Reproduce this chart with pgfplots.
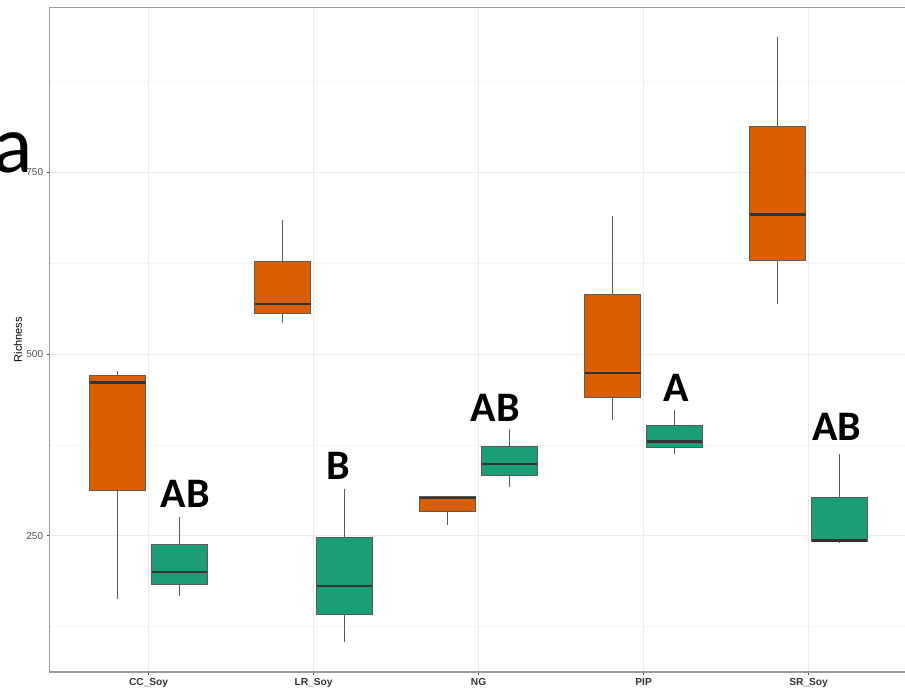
\documentclass[border=0pt]{standalone}
\usepackage{fontspec}
\setmainfont{Liberation Sans}
\newfontfamily\labfont{Carlito}
\usepackage{pgfplots}
\pgfplotsset{compat=1.18}

\definecolor{soyorange}{HTML}{D95F02}
\definecolor{soygreen}{HTML}{1B9E77}
\definecolor{gridmaj}{HTML}{EBEBEB}
\definecolor{gridmin}{HTML}{F5F5F5}
\definecolor{boxline}{HTML}{5A5A5A}
\definecolor{medline}{HTML}{333333}
\definecolor{ticktext}{HTML}{4D4D4D}
\definecolor{frame}{HTML}{9A9A9A}

\pgfplotsset{
  qbox/.style={fill=#1, draw=boxline, line width=1pt},
  whisk/.style={draw=boxline, line width=1pt},
  med/.style={draw=medline, line width=2.4pt},
}
\tikzset{grp/.style={font=\labfont\fontsize{42}{42}\selectfont\bfseries, inner sep=0pt, anchor=center}}

\begin{document}
\begin{tikzpicture}
\begin{axis}[
  scale only axis,
  width=858pt, height=664.5pt,
  xmin=0.4, xmax=5.6, ymin=62.5, ymax=976.8,
  xtick={1,2,3,4,5},
  xticklabels={CC\_Soy, LR\_Soy, NG, PIP, SR\_Soy},
  ytick={250,500,750},
  yticklabels={250,500,750},
  minor ytick={125,375,625,875},
  xmajorgrids, ymajorgrids, yminorgrids,
  major grid style={draw=gridmaj, line width=0.9pt},
  minor grid style={draw=gridmin, line width=0.6pt},
  axis line style={draw=frame, line width=1.1pt},
  tick pos=left, tick align=outside, major tick length=3pt, minor tick length=0pt,
  tick style={draw=ticktext, line width=0.8pt},
  /pgf/number format/assume math mode=true,
  xticklabel style={font=\fontsize{10.2}{12}\selectfont\bfseries, text=medline},
  yticklabel style={font=\fontsize{10}{12}\selectfont, text=ticktext},
  every axis y label/.style={at={(axis description cs:0,0.5)}, xshift=-31.6pt, rotate=90, anchor=center},
  ylabel={Richness},
  ylabel style={font=\fontsize{11}{13}\selectfont},
]
% ---- CC_Soy: orange (whiskers 163.6/477, box 312-470.4, median 461)
\addplot[whisk] coordinates {(0.8125,163.6) (0.8125,312)};
\addplot[whisk] coordinates {(0.8125,470.4) (0.8125,477)};
\addplot[qbox=soyorange] coordinates {(0.64375,312) (0.98125,312) (0.98125,470.4) (0.64375,470.4)} -- cycle;
\addplot[med] coordinates {(0.64375,461) (0.98125,461)};
% CC_Soy: green (167.7/275.2, 183.4-237.7, 199.8)
\addplot[whisk] coordinates {(1.1875,167.7) (1.1875,183.4)};
\addplot[whisk] coordinates {(1.1875,237.7) (1.1875,275.2)};
\addplot[qbox=soygreen] coordinates {(1.01875,183.4) (1.35625,183.4) (1.35625,237.7) (1.01875,237.7)} -- cycle;
\addplot[med] coordinates {(1.01875,199.8) (1.35625,199.8)};
% ---- LR_Soy: orange (543/685, 556-627, 568.7)
\addplot[whisk] coordinates {(1.8125,543) (1.8125,556)};
\addplot[whisk] coordinates {(1.8125,627) (1.8125,685)};
\addplot[qbox=soyorange] coordinates {(1.64375,556) (1.98125,556) (1.98125,627) (1.64375,627)} -- cycle;
\addplot[med] coordinates {(1.64375,568.7) (1.98125,568.7)};
% LR_Soy: green (103.3/314, 141.9-248.2, 180.8)
\addplot[whisk] coordinates {(2.1875,103.3) (2.1875,141.9)};
\addplot[whisk] coordinates {(2.1875,248.2) (2.1875,314)};
\addplot[qbox=soygreen] coordinates {(2.01875,141.9) (2.35625,141.9) (2.35625,248.2) (2.01875,248.2)} -- cycle;
\addplot[med] coordinates {(2.01875,180.8) (2.35625,180.8)};
% ---- NG: orange (264.3/303.6, 284-303.6, 302)
\addplot[whisk] coordinates {(2.8125,264.3) (2.8125,284)};
\addplot[qbox=soyorange] coordinates {(2.64375,284) (2.98125,284) (2.98125,303.6) (2.64375,303.6)} -- cycle;
\addplot[med] coordinates {(2.64375,302) (2.98125,302)};
% NG: green (317/396.4, 332.5-373, 349)
\addplot[whisk] coordinates {(3.1875,317) (3.1875,332.5)};
\addplot[whisk] coordinates {(3.1875,373) (3.1875,396.4)};
\addplot[qbox=soygreen] coordinates {(3.01875,332.5) (3.35625,332.5) (3.35625,373) (3.01875,373)} -- cycle;
\addplot[med] coordinates {(3.01875,349) (3.35625,349)};
% ---- PIP: orange (409/690, 440.8-582, 473.8)
\addplot[whisk] coordinates {(3.8125,409) (3.8125,440.8)};
\addplot[whisk] coordinates {(3.8125,582) (3.8125,690)};
\addplot[qbox=soyorange] coordinates {(3.64375,440.8) (3.98125,440.8) (3.98125,582) (3.64375,582)} -- cycle;
\addplot[med] coordinates {(3.64375,473.8) (3.98125,473.8)};
% PIP: green (362/423, 371-401.9, 379.8)
\addplot[whisk] coordinates {(4.1875,362) (4.1875,371)};
\addplot[whisk] coordinates {(4.1875,401.9) (4.1875,423)};
\addplot[qbox=soygreen] coordinates {(4.01875,371) (4.35625,371) (4.35625,401.9) (4.01875,401.9)} -- cycle;
\addplot[med] coordinates {(4.01875,379.8) (4.35625,379.8)};
% ---- SR_Soy: orange (568.3/935.7, 629.2-813.3, 692)
\addplot[whisk] coordinates {(4.8125,568.3) (4.8125,629.2)};
\addplot[whisk] coordinates {(4.8125,813.3) (4.8125,935.7)};
\addplot[qbox=soyorange] coordinates {(4.64375,629.2) (4.98125,629.2) (4.98125,813.3) (4.64375,813.3)} -- cycle;
\addplot[med] coordinates {(4.64375,692) (4.98125,692)};
% SR_Soy: green (240.3/361.8, 242.4-303, 243.4)
\addplot[whisk] coordinates {(5.1875,240.3) (5.1875,242.4)};
\addplot[whisk] coordinates {(5.1875,303) (5.1875,361.8)};
\addplot[qbox=soygreen] coordinates {(5.01875,242.4) (5.35625,242.4) (5.35625,303) (5.01875,303)} -- cycle;
\addplot[med] coordinates {(5.01875,243.4) (5.35625,243.4)};

% group letters
\node[grp] at (axis cs:1.222,307.8) {AB};
\node[grp] at (axis cs:2.152,345.5) {B};
\node[grp] at (axis cs:3.101,425.7) {AB};
\node[grp] at (axis cs:4.198,452.8) {A};
\node[grp] at (axis cs:5.172,400) {AB};
\end{axis}
% panel tag
\node[font=\labfont\fontsize{82}{82}\selectfont, anchor=base east, inner sep=0pt] at (-17.1pt,499pt) {a};
\pgfresetboundingbox
\useasboundingbox (-49.6pt,-21pt) rectangle (855.4pt,672pt);
\end{tikzpicture}
\end{document}
